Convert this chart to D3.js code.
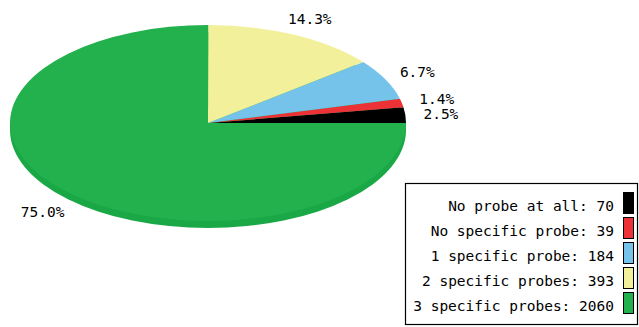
<!DOCTYPE html>
<html lang="en">
<head>
  <meta charset="UTF-8" />
  <title>Probe specificity</title>
  <script src="https://d3js.org/d3.v7.min.js"></script>
  <style>
    html, body { margin: 0; padding: 0; background: #fff; }
    svg { display: block; }
    text { font-family: "DejaVu Sans Mono", "Liberation Mono", monospace; font-size: 14.5px; fill: #000; }
  </style>
</head>
<body>
  <div id="chart"></div>

  <script>
    // data
    const categories = ["No probe at all", "No specific probe", "1 specific probe", "2 specific probes", "3 specific probes"];
    const counts = [70, 39, 184, 393, 2060];
    const colors = ["#000000", "#ec3237", "#75c3ea", "#f2f09b", "#22b14c"];

    const width = 639, height = 327;
    const cx = 208, cy = 123, rx = 198, ry = 98, depth = 7;

    const total = d3.sum(counts);
    const data = categories.map((c, i) => ({ label: c, value: counts[i], color: colors[i] }));

    const svg = d3.select("#chart")
      .append("svg")
      .attr("width", width)
      .attr("height", height);

    // slices go counter-clockwise starting at 3 o'clock
    const pie = d3.pie()
      .value(d => d.value)
      .sort(null)
      .startAngle(Math.PI / 2)
      .endAngle(Math.PI / 2 - 2 * Math.PI);

    const arcs = pie(data);
    const arc = d3.arc().innerRadius(0).outerRadius(rx);

    // side of the disc (thickness)
    svg.append("rect")
      .attr("x", cx - rx)
      .attr("y", cy)
      .attr("width", rx * 2)
      .attr("height", depth)
      .attr("fill", "#1aa846");

    svg.append("ellipse")
      .attr("cx", cx)
      .attr("cy", cy + depth)
      .attr("rx", rx)
      .attr("ry", ry)
      .attr("fill", "#1aa846");

    // top face
    const face = svg.append("g")
      .attr("transform", `translate(${cx},${cy}) scale(1,${ry / rx})`);

    face.selectAll("path")
      .data(arcs)
      .enter()
      .append("path")
      .attr("d", arc)
      .attr("fill", d => d.data.color);

    // percentage labels just outside the rim
    const k = 1.18;
    svg.selectAll("text.pct")
      .data(arcs)
      .enter()
      .append("text")
      .attr("class", "pct")
      .attr("text-anchor", "middle")
      .attr("dominant-baseline", "central")
      .attr("x", d => {
        const a = (d.startAngle + d.endAngle) / 2;
        return cx + Math.sin(a) * rx * k;
      })
      .attr("y", d => {
        const a = (d.startAngle + d.endAngle) / 2;
        const dy = -Math.cos(a) * ry * k;
        return cy + dy + (dy > 0 ? depth : 0);
      })
      .text(d => (d.data.value / total * 100).toFixed(1) + "%");

    // legend
    const legend = svg.append("g");
    legend.append("rect")
      .attr("x", 405.5)
      .attr("y", 183.5)
      .attr("width", 232)
      .attr("height", 141)
      .attr("fill", "#fff")
      .attr("stroke", "#000")
      .attr("stroke-width", 1.2);

    const rowY = d3.scalePoint()
      .domain(categories)
      .range([206, 306]);

    const items = legend.selectAll("g.item")
      .data(data)
      .enter()
      .append("g")
      .attr("class", "item")
      .attr("transform", d => `translate(0,${rowY(d.label)})`);

    items.append("text")
      .attr("x", 614)
      .attr("text-anchor", "end")
      .attr("dominant-baseline", "central")
      .text(d => `${d.label}: ${d.value}`);

    items.append("rect")
      .attr("x", 623.5)
      .attr("y", -13.5)
      .attr("width", 10)
      .attr("height", 21)
      .attr("fill", d => d.color)
      .attr("stroke", "#000")
      .attr("stroke-width", 1);
  </script>
</body>
</html>
